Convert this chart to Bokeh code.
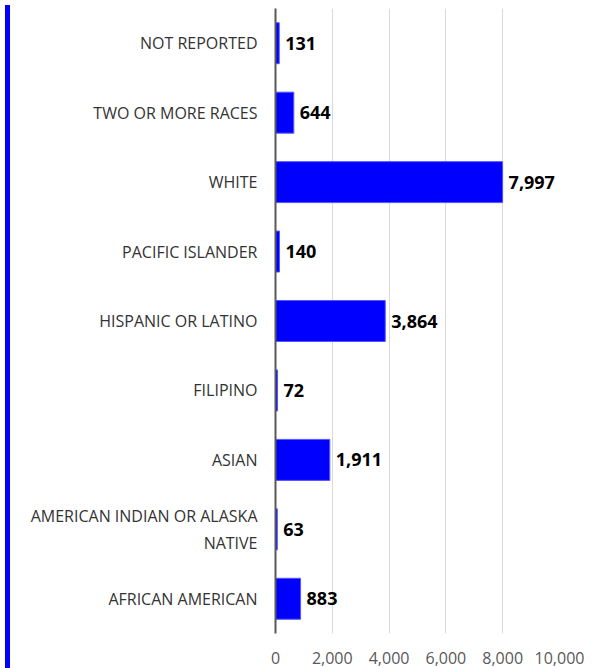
from bokeh.plotting import figure
from bokeh.models import ColumnDataSource, FixedTicker, NumeralTickFormatter, Range1d, Div
from bokeh.layouts import row
from bokeh.embed import file_html
from bokeh.resources import INLINE
from bokeh.core.properties import value

categories = ["NOT REPORTED", "TWO OR MORE RACES", "WHITE", "PACIFIC ISLANDER",
              "HISPANIC OR LATINO", "FILIPINO", "ASIAN",
              "AMERICAN INDIAN OR ALASKA\nNATIVE", "AFRICAN AMERICAN"]
counts = [131, 644, 7997, 140, 3864, 72, 1911, 63, 883]
x_ticks = [0, 2000, 4000, 6000, 8000, 10000]

cats = categories[::-1]
vals = counts[::-1]
src = ColumnDataSource(dict(cat=cats, val=vals, lbl=[f"{v:,}" for v in vals]))

p = figure(width=578, height=667, y_range=cats, x_range=Range1d(0, 10000),
           output_backend="svg", toolbar_location=None,
           min_border_left=260, min_border_right=34, min_border_top=8, min_border_bottom=34)
p.hbar(y="cat", right="val", left=0, height=0.59, source=src,
       fill_color="#0000FF", line_color="#5555FF", line_width=1)
p.text(x="val", y="cat", text="lbl", source=src, x_offset=6,
       text_baseline="middle", text_align="left", text_font=value("Open Sans"),
       text_font_size="18px", text_font_style="bold", text_color="#000000")

p.outline_line_color = None
p.ygrid.grid_line_color = None
p.xgrid.grid_line_color = "#D9D9D9"
p.xgrid.ticker = FixedTicker(ticks=x_ticks[1:])

p.xaxis.ticker = FixedTicker(ticks=x_ticks)
p.xaxis.formatter = NumeralTickFormatter(format="0,0")
p.xaxis.axis_line_color = None
p.xaxis.major_tick_line_color = None
p.xaxis.minor_tick_line_color = None
p.xaxis.major_label_text_font = "Open Sans"
p.xaxis.major_label_text_font_size = "16px"
p.xaxis.major_label_text_color = "#595959"
p.xaxis.major_label_standoff = 12

p.yaxis.axis_line_color = "#595959"
p.yaxis.axis_line_width = 2
p.yaxis.major_tick_line_color = None
p.yaxis.minor_tick_line_color = None
p.yaxis.major_label_text_font = "Open Sans"
p.yaxis.major_label_text_font_size = "16px"
p.yaxis.major_label_text_color = "#333333"
p.yaxis.major_label_standoff = 12
p.y_range.range_padding = 0

stripe = Div(text="", width=5, height=667,
             styles={"background-color": "#0000FF"})

layout = row(stripe, p, spacing=0)
open("out.html", "w").write(file_html(layout, INLINE))
